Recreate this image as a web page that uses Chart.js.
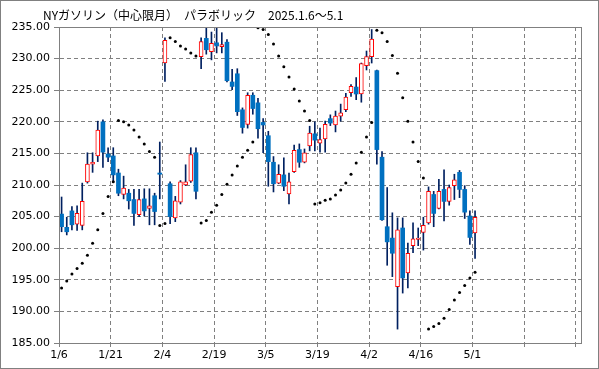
<!DOCTYPE html>
<html>
<head>
<meta charset="utf-8">
<script src="https://cdn.jsdelivr.net/npm/chart.js@4.4.1/dist/chart.umd.min.js"></script>
<style>
  html, body { margin: 0; padding: 0; background: #fff; }
  canvas { display: block; }
</style>
</head>
<body>
<canvas id="chart" width="599" height="369"></canvas>
<script>
// NYガソリン 日足 (2025.1.6 ~ 5.1) + パラボリック
const chartTitle = 'NYガソリン（中心限月）　パラボリック　2025.1.6～5.1';
const tickLabels = ['1/6', '1/21', '2/4', '2/19', '3/5', '3/19', '4/2', '4/16', '5/1', '', ''];

const openP  = [205.4, 203.3, 205.9, 203.8, 203.6, 210.5, 213.3, 214.6, 220.0, 214.9,
                214.6, 211.9, 208.5, 208.7, 207.7, 205.3, 207.8, 206.3, 208.3, 211.9,
                229.3, 210.2, 204.8, 207.3, 210.0, 210.6, 215.1, 230.3, 233.2, 231.1,
                232.5, 231.9, 232.6, 226.3, 227.6, 221.9, 219.6, 224.2, 223.0, 219.9,
                217.8, 213.6, 210.3, 211.6, 208.6, 212.1, 215.6, 213.6, 216.2, 218.1,
                216.6, 217.3, 220.5, 219.5, 220.9, 221.9, 224.6, 225.5, 224.4, 228.9,
                230.3, 228.1, 214.4, 203.4, 201.6, 193.9, 203.2, 196.1, 200.4, 201.4,
                202.5, 204.0, 208.5, 206.3, 209.3, 207.4, 209.9, 212.0, 209.3, 205.1,
                202.4];
const highP  = [208.1, 204.9, 206.6, 206.7, 210.3, 215.1, 215.1, 220.1, 220.3, 215.9,
                215.9, 212.5, 211.4, 209.3, 209.3, 209.3, 209.4, 209.4, 208.7, 216.8,
                233.3, 210.5, 208.2, 210.7, 213.2, 215.9, 215.9, 233.3, 234.8, 234.2,
                234.9, 234.1, 233.0, 228.3, 228.4, 222.2, 224.6, 224.6, 223.7, 220.5,
                218.5, 214.5, 213.2, 214.3, 211.9, 216.3, 216.5, 215.7, 219.3, 220.0,
                219.0, 220.1, 221.1, 221.7, 222.8, 224.5, 225.9, 227.0, 229.3, 231.2,
                234.6, 228.2, 215.3, 209.6, 205.6, 204.8, 204.8, 200.8, 204.0, 203.2,
                204.9, 209.7, 209.0, 210.9, 212.4, 210.0, 211.7, 212.3, 209.9, 205.9,
                205.9];
const lowP   = [202.6, 202.1, 202.9, 202.8, 202.9, 210.3, 212.0, 213.7, 212.8, 213.7,
                210.4, 208.3, 207.8, 206.2, 203.6, 205.0, 205.1, 203.7, 203.7, 207.8,
                226.4, 203.9, 204.2, 207.0, 209.9, 210.4, 207.8, 228.4, 230.7, 229.8,
                230.9, 230.9, 226.3, 225.1, 221.0, 218.2, 219.0, 221.2, 217.4, 215.1,
                209.8, 208.9, 210.2, 209.1, 207.0, 212.0, 212.8, 213.5, 215.4, 215.4,
                215.2, 215.2, 219.4, 218.4, 220.1, 221.6, 224.0, 223.5, 223.1, 228.2,
                229.3, 213.3, 204.4, 197.3, 195.5, 187.2, 192.9, 193.7, 199.3, 200.4,
                199.7, 203.8, 203.4, 206.2, 204.3, 206.8, 207.7, 208.0, 204.7, 200.6,
                198.4];
const closeP = [203.4, 202.6, 203.7, 205.5, 207.4, 213.3, 213.6, 218.7, 215.2, 214.4,
                211.6, 208.7, 209.5, 207.5, 205.5, 207.7, 205.9, 206.7, 205.8, 211.7,
                232.9, 205.0, 207.5, 210.5, 210.5, 214.8, 209.0, 232.7, 231.4, 232.4,
                232.0, 232.2, 226.5, 225.6, 221.6, 219.1, 224.2, 222.1, 218.9, 219.5,
                213.7, 210.2, 211.7, 209.8, 210.5, 215.5, 213.6, 215.1, 218.2, 217.1,
                217.2, 219.6, 219.8, 220.9, 221.4, 223.9, 225.6, 224.4, 229.2, 230.3,
                233.1, 215.6, 204.5, 201.0, 199.2, 202.9, 195.3, 199.2, 201.5, 201.6,
                203.6, 209.0, 205.5, 209.0, 207.4, 209.6, 210.8, 209.3, 205.7, 201.7,
                204.9];
const sarP   = [193.7, 194.8, 195.9, 196.8, 197.6, 198.9, 200.8, 202.9, 205.5, 208.2,
                210.5, 220.2, 220.0, 219.5, 218.7, 217.6, 216.5, 215.3, 214.4, 203.6,
                203.9, 233.3, 232.7, 232.0, 231.5, 230.9, 230.4, 204.0, 204.4, 205.7,
                206.8, 208.5, 210.1, 211.6, 213.0, 214.4, 215.5, 216.8, 234.9, 234.6,
                233.8, 232.3, 230.4, 228.7, 227.1, 225.2, 223.3, 221.7, 220.2, 207.0,
                207.2, 207.6, 207.8, 208.4, 209.2, 210.3, 211.7, 213.5, 215.2, 217.6,
                219.9, 234.5, 234.1, 232.7, 230.5, 227.7, 223.8, 220.1, 216.8, 213.7,
                211.1, 187.2, 187.6, 188.1, 188.9, 190.3, 191.8, 193.0, 194.1, 195.3,
                196.2];

// build datasets
const wicks = [], upBodies = [], downBodies = [], sarDots = [];
openP.forEach((o, i) => {
    const c = closeP[i];
    wicks.push({ x: i, y: [lowP[i], highP[i]] });
    if (c >= o) upBodies.push({ x: i, y: [o, c] });
    else downBodies.push({ x: i, y: [c, o] });
    sarDots.push({ x: i, y: sarP[i] });
});

const gray = '#808080';

// frame + title
const framePlugin = {
    id: 'frame',
    afterDraw(chart) {
        const { ctx, chartArea: a } = chart;
        ctx.save();
        ctx.strokeStyle = gray;
        ctx.lineWidth = 1;
        ctx.strokeRect(Math.round(a.left) + 0.5, Math.round(a.top) + 0.5,
            Math.round(a.right - a.left), Math.round(a.bottom - a.top));
        ctx.strokeRect(0.5, 0.5, chart.width - 1, chart.height - 1);
        ctx.fillStyle = '#000';
        ctx.font = '12px "Noto Sans CJK JP"';
        ctx.textBaseline = 'middle';
        ctx.fillText(chartTitle, 43, 15);
        ctx.restore();
    }
};

new Chart(document.getElementById('chart'), {
    type: 'bar',
    data: {
        datasets: [
            { label: 'wick', data: wicks, backgroundColor: '#002060', barThickness: 1, grouped: false, order: 3 },
            { label: 'up', data: upBodies, backgroundColor: '#ffffff', borderColor: '#ff0000', borderWidth: 1,
              borderSkipped: false, barThickness: 4, grouped: false, order: 2 },
            { label: 'down', data: downBodies, backgroundColor: '#0070c0', barThickness: 4, grouped: false, order: 2 },
            { label: 'SAR', type: 'scatter', data: sarDots, backgroundColor: '#000', borderWidth: 0,
              pointRadius: 1.5, order: 1 }
        ]
    },
    options: {
        responsive: false,
        animation: false,
        layout: { padding: { top: 27, right: 18, left: 0, bottom: 0 } },
        plugins: { legend: { display: false }, tooltip: { enabled: false }, title: { display: false } },
        scales: {
            x: {
                type: 'linear',
                min: -0.5,
                max: 100.5,
                offset: false,
                afterBuildTicks: (scale) => {
                    scale.ticks = tickLabels.map((t, k) => ({ value: -0.5 + 10 * k }));
                },
                afterFit: (scale) => { scale.height = 26; },
                ticks: {
                    autoSkip: false,
                    maxRotation: 0,
                    padding: 2,
                    color: '#000',
                    font: { family: 'DejaVu Sans', size: 11 },
                    callback: (v, k) => tickLabels[k]
                },
                grid: { color: gray, tickColor: gray, tickLength: 4, offset: false },
                border: { color: gray, dash: [4, 3] }
            },
            y: {
                min: 185,
                max: 235,
                afterFit: (scale) => { scale.width = 59; },
                ticks: {
                    stepSize: 5,
                    padding: 4,
                    color: '#000',
                    font: { family: 'DejaVu Sans', size: 11 },
                    callback: (v) => v.toFixed(2)
                },
                grid: { color: gray, tickColor: gray, tickLength: 5 },
                border: { color: gray, dash: [4, 3] }
            }
        }
    },
    plugins: [framePlugin]
});
</script>
</body>
</html>
